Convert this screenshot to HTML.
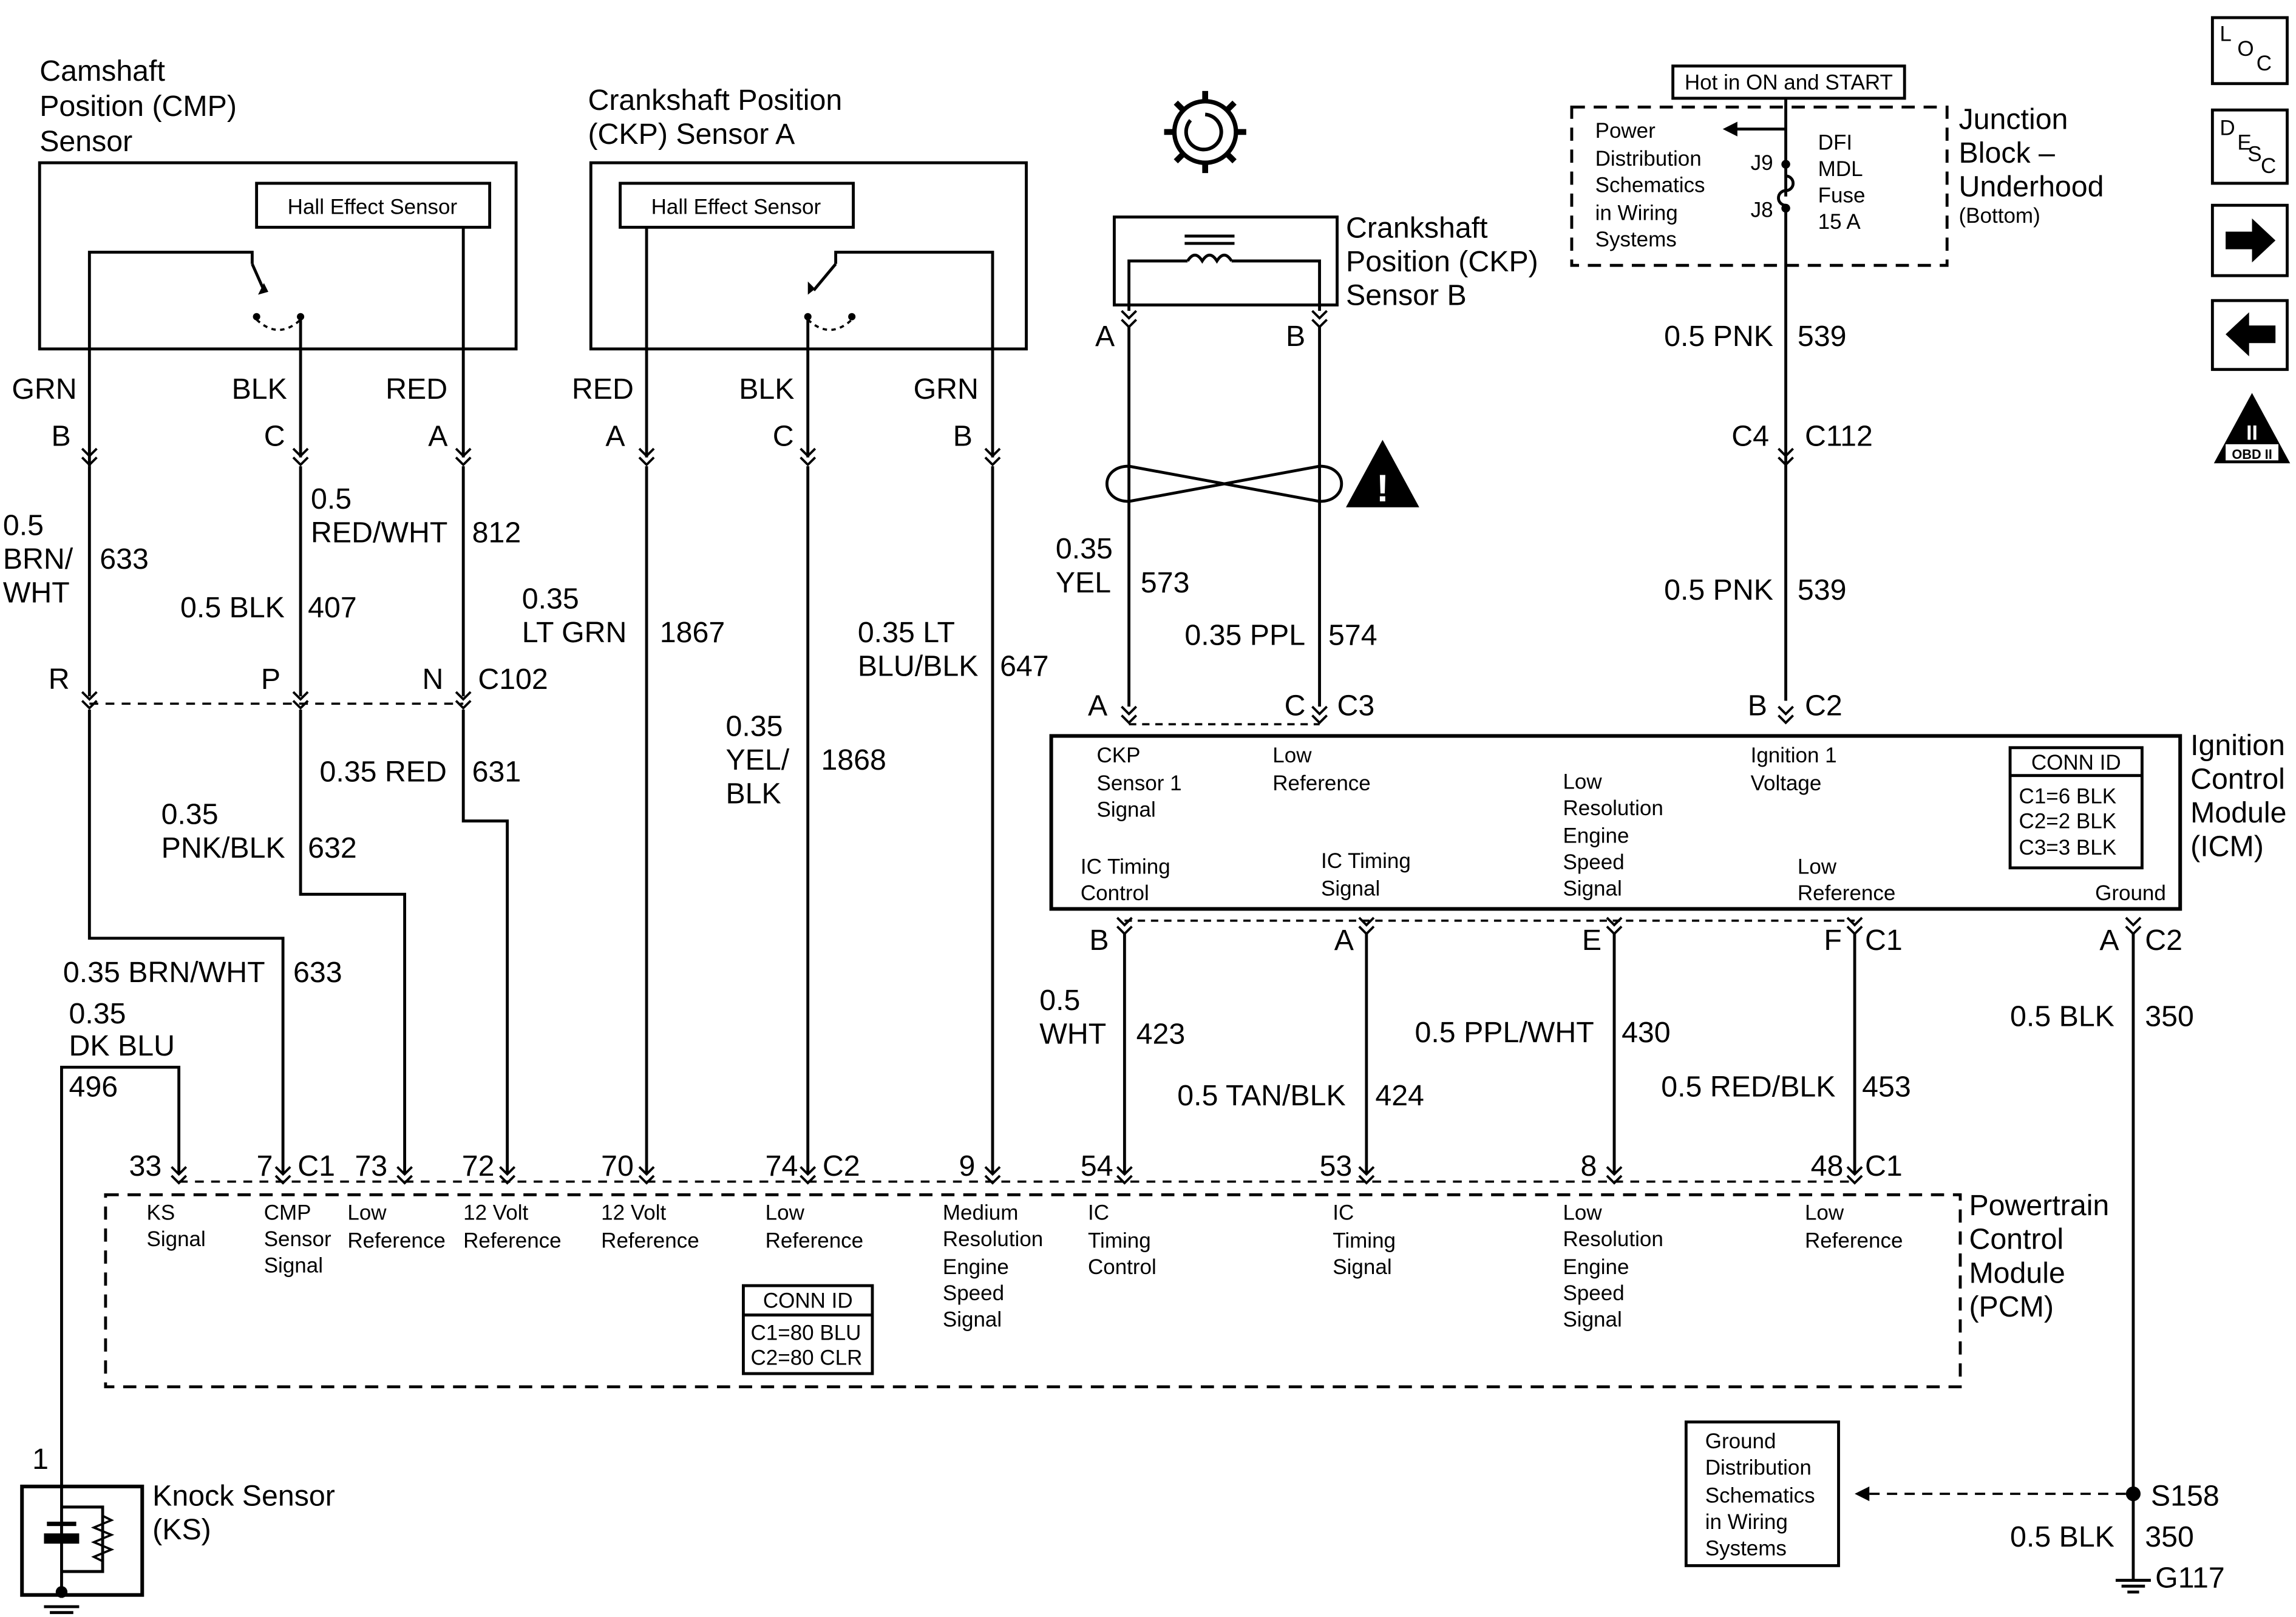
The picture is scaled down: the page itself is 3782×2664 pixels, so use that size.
<!DOCTYPE html>
<html><head><meta charset="utf-8"><style>
html,body{margin:0;padding:0;background:#fff}
svg{display:block}
text{font-family:"Liberation Sans",Arial,sans-serif;fill:#000}
.L{font-size:20px}
.S{font-size:14.5px}
</style></head><body>
<svg width="3782" height="2664" viewBox="0 0 1566 1103" xmlns="http://www.w3.org/2000/svg">
<defs>
<g id="ch"><path d="M-5,-6 L0,-1 L5,-6 M-5,0 L0,5 L5,0" fill="none" stroke="#000" stroke-width="1.6"/></g>
</defs>
<g stroke="#000" stroke-width="2" fill="none">
<rect x="27" y="111" width="325" height="127"/>
<rect x="175" y="125" width="159" height="30"/>
<polyline points="61,318 61,172 172,172 172,180"/>
<line x1="172" y1="180" x2="180" y2="198"/>
<line x1="316" y1="155" x2="316" y2="312"/>
<line x1="205" y1="217" x2="205" y2="312"/>
<path d="M175,218 Q190,232 205,218" stroke-dasharray="3,3" stroke-width="1.5"/>
<line x1="61" y1="318" x2="61" y2="475"/>
<polyline points="61,484 61,640 193,640 193,800"/>
<line x1="205" y1="318" x2="205" y2="475"/>
<polyline points="205,484 205,610 276,610 276,800"/>
<line x1="316" y1="318" x2="316" y2="475"/>
<polyline points="316,484 316,560 346,560 346,800"/>
<line x1="61" y1="480" x2="316" y2="480" stroke-dasharray="6,5" stroke-width="1.5"/>
<polyline points="42,1014 42,728 122,728 122,800"/>
<rect x="403" y="111" width="297" height="127"/>
<rect x="423" y="125" width="159" height="30"/>
<line x1="441" y1="155" x2="441" y2="312"/>
<line x1="441" y1="318" x2="441" y2="800"/>
<polyline points="677,312 677,172 570,172 570,180"/>
<line x1="570" y1="180" x2="555" y2="198"/>
<line x1="677" y1="318" x2="677" y2="800"/>
<line x1="551" y1="217" x2="551" y2="312"/>
<line x1="551" y1="318" x2="551" y2="800"/>
<path d="M551,218 Q566,232 581,218" stroke-dasharray="3,3" stroke-width="1.5"/>
<rect x="72" y="815" width="1265" height="131" stroke-dasharray="9,6"/>
<line x1="122" y1="806" x2="1265" y2="806" stroke-dasharray="6,5" stroke-width="1.5"/>
<rect x="507" y="877" width="88" height="60"/>
<line x1="507" y1="897" x2="595" y2="897"/>
<rect x="15" y="1014" width="82" height="74" stroke-width="2.5"/>
<line x1="42" y1="1014" x2="42" y2="1090"/>
<polyline points="42,1028 70,1028 70,1072 42,1072"/>
<path d="M70,1034 l6,3 -12,5 12,5 -12,5 12,5 -12,5 6,3" stroke-width="1.5"/>
<line x1="30" y1="1096" x2="54" y2="1096"/><line x1="34" y1="1100" x2="50" y2="1100"/>
<circle cx="822" cy="90" r="21" stroke-width="3"/>
<path d="M812,82 A12,12 0 1 0 822,78" stroke-width="2.5"/>
<rect x="760" y="148" width="152" height="60"/>
<polyline points="770,212 770,178 810,178"/>
<polyline points="900,212 900,178 840,178"/>
<path d="M810,178 q5,-8 10,0 q5,-8 10,0 q5,-8 10,0"/>
<line x1="808" y1="166" x2="842" y2="166"/><line x1="808" y1="161" x2="842" y2="161"/>
<line x1="770" y1="222" x2="770" y2="482"/>
<line x1="900" y1="222" x2="900" y2="482"/>
<path d="M770,318 C750,318 750,342 770,342 L900,318 C920,318 920,342 900,342 Z" stroke-width="2"/>
<line x1="770" y1="494" x2="900" y2="494" stroke-dasharray="5,4" stroke-width="1.5"/>
<rect x="717" y="502" width="770" height="118" stroke-width="2.5"/>
<rect x="1371" y="510" width="90" height="82"/>
<line x1="1371" y1="529" x2="1461" y2="529"/>
<line x1="767" y1="628" x2="1265" y2="628" stroke-dasharray="5,4" stroke-width="1.5"/>
<line x1="767" y1="636" x2="767" y2="800"/>
<line x1="932" y1="636" x2="932" y2="800"/>
<line x1="1101" y1="636" x2="1101" y2="800"/>
<line x1="1265" y1="636" x2="1265" y2="800"/>
<line x1="1455" y1="636" x2="1455" y2="1078"/>
<rect x="1141" y="45" width="158" height="22"/>
<rect x="1072" y="73" width="256" height="108" stroke-dasharray="9,6"/>
<line x1="1218" y1="67" x2="1218" y2="134"/>
<line x1="1218" y1="88" x2="1182" y2="88"/>
<path d="M1218,120 a5,5 0 0 1 0,10 a5,5 0 0 0 0,10"/>
<line x1="1218" y1="142" x2="1218" y2="478"/>
<rect x="1150" y="970" width="104" height="98"/>
<line x1="1275" y1="1019" x2="1455" y2="1019" stroke-dasharray="7,5" stroke-width="1.5"/>
<line x1="1443" y1="1078" x2="1467" y2="1078"/><line x1="1447" y1="1082" x2="1463" y2="1082"/><line x1="1451" y1="1086" x2="1459" y2="1086"/>
<rect x="1509" y="12" width="51" height="45"/>
<rect x="1509" y="75" width="51" height="50"/>
<rect x="1509" y="140" width="51" height="48"/>
<rect x="1509" y="205" width="51" height="47"/>
</g>
<g fill="#000">
<circle cx="175" cy="216" r="2.5"/><circle cx="205" cy="216" r="2.5"/>
<circle cx="551" cy="216" r="2.5"/><circle cx="581" cy="216" r="2.5"/>
<path d="M176,201 l4,-8 3,6z"/><path d="M551,201 l0,-9 5,5z"/>
<rect x="30" y="1046" width="24" height="7"/>
<rect x="32" y="1038" width="20" height="3"/>
<circle cx="42" cy="1086" r="4"/>
<path d="M943,300 L968,346 L918,346 Z"/>
<path d="M1175,88 l10,-5 0,10z"/>
<circle cx="1218" cy="112" r="3"/><circle cx="1218" cy="142" r="3"/>
<path d="M1265,1019 l10,-5 0,10z"/>
<circle cx="1455" cy="1019" r="5"/>
<path d="M1518,158 h18 v-9 l16,15 -16,15 v-9 h-18z"/>
<path d="M1552,222 h-18 v-9 l-16,15 16,15 v-9 h18z"/>
<path d="M1536,268 L1562,316 L1510,316Z"/>
</g>
<g fill="none" stroke="#000" stroke-width="4">
<path d="M822,69 v-7 M822,111 v7 M801,90 h-7 M843,90 h7 M807,75 l-5,-5 M837,75 l5,-5 M807,105 l-5,5 M837,105 l5,5"/>
</g>
<text x="943" y="342" text-anchor="middle" style="font-size:26px;font-weight:bold;fill:#fff">!</text>
<text x="1536" y="300" text-anchor="middle" style="font-size:14px;font-weight:bold;fill:#fff">II</text>
<rect x="1518" y="303" width="36" height="11" fill="#fff"/>
<text x="1536" y="313" text-anchor="middle" style="font-size:9px;font-weight:bold">OBD II</text>
<g>
<use href="#ch" x="61" y="312"/><use href="#ch" x="205" y="312"/><use href="#ch" x="316" y="312"/>
<use href="#ch" x="441" y="312"/><use href="#ch" x="551" y="312"/><use href="#ch" x="677" y="312"/>
<use href="#ch" x="61" y="478"/><use href="#ch" x="205" y="478"/><use href="#ch" x="316" y="478"/>
<use href="#ch" x="122" y="802"/><use href="#ch" x="193" y="802"/><use href="#ch" x="276" y="802"/><use href="#ch" x="346" y="802"/>
<use href="#ch" x="441" y="802"/><use href="#ch" x="551" y="802"/><use href="#ch" x="677" y="802"/>
<use href="#ch" x="767" y="802"/><use href="#ch" x="932" y="802"/><use href="#ch" x="1101" y="802"/><use href="#ch" x="1265" y="802"/>
<use href="#ch" x="770" y="218"/><use href="#ch" x="900" y="218"/>
<use href="#ch" x="770" y="488"/><use href="#ch" x="900" y="488"/>
<use href="#ch" x="1218" y="312"/><use href="#ch" x="1218" y="488"/>
<use href="#ch" x="767" y="632"/><use href="#ch" x="932" y="632"/><use href="#ch" x="1101" y="632"/><use href="#ch" x="1265" y="632"/><use href="#ch" x="1455" y="632"/>
</g>
<g class="L">
<text x="27" y="55">Camshaft</text><text x="27" y="79">Position (CMP)</text><text x="27" y="103">Sensor</text>
<text x="8" y="272">GRN</text><text x="158" y="272">BLK</text><text x="263" y="272">RED</text>
<text x="35" y="304">B</text><text x="180" y="304">C</text><text x="292" y="304">A</text>
<text x="2" y="365">0.5</text><text x="2" y="388">BRN/</text><text x="2" y="411">WHT</text><text x="68" y="388">633</text>
<text x="212" y="347">0.5</text><text x="212" y="370">RED/WHT</text><text x="322" y="370">812</text>
<text x="123" y="421">0.5 BLK</text><text x="210" y="421">407</text>
<text x="33" y="470">R</text><text x="178" y="470">P</text><text x="288" y="470">N</text><text x="326" y="470">C102</text>
<text x="218" y="533">0.35 RED</text><text x="322" y="533">631</text>
<text x="110" y="562">0.35</text><text x="110" y="585">PNK/BLK</text><text x="210" y="585">632</text>
<text x="43" y="670">0.35 BRN/WHT</text><text x="200" y="670">633</text>
<text x="47" y="698">0.35</text><text x="47" y="720">DK BLU</text><text x="47" y="748">496</text>
<text x="401" y="75">Crankshaft Position</text><text x="401" y="98">(CKP) Sensor A</text>
<text x="390" y="272">RED</text><text x="504" y="272">BLK</text><text x="623" y="272">GRN</text>
<text x="413" y="304">A</text><text x="527" y="304">C</text><text x="650" y="304">B</text>
<text x="356" y="415">0.35</text><text x="356" y="438">LT GRN</text><text x="450" y="438">1867</text>
<text x="495" y="502">0.35</text><text x="495" y="525">YEL/</text><text x="495" y="548">BLK</text><text x="560" y="525">1868</text>
<text x="585" y="438">0.35 LT</text><text x="585" y="461">BLU/BLK</text><text x="682" y="461">647</text>
<text x="88" y="802">33</text><text x="175" y="802">7</text><text x="203" y="802">C1</text><text x="242" y="802">73</text><text x="315" y="802">72</text>
<text x="410" y="802">70</text><text x="522" y="802">74</text><text x="561" y="802">C2</text><text x="654" y="802">9</text>
<text x="737" y="802">54</text><text x="900" y="802">53</text><text x="1078" y="802">8</text><text x="1235" y="802">48</text><text x="1272" y="802">C1</text>
<text x="1343" y="829">Powertrain</text><text x="1343" y="852">Control</text><text x="1343" y="875">Module</text><text x="1343" y="898">(PCM)</text>
<text x="22" y="1002">1</text>
<text x="104" y="1027">Knock Sensor</text><text x="104" y="1050">(KS)</text>
<text x="918" y="162">Crankshaft</text><text x="918" y="185">Position (CKP)</text><text x="918" y="208">Sensor B</text>
<text x="747" y="236">A</text><text x="877" y="236">B</text>
<text x="720" y="381">0.35</text><text x="720" y="404">YEL</text><text x="778" y="404">573</text>
<text x="808" y="440">0.35 PPL</text><text x="906" y="440">574</text>
<text x="742" y="488">A</text><text x="876" y="488">C</text><text x="912" y="488">C3</text>
<text x="1494" y="515">Ignition</text><text x="1494" y="538">Control</text><text x="1494" y="561">Module</text><text x="1494" y="584">(ICM)</text>
<text x="743" y="648">B</text><text x="910" y="648">A</text><text x="1079" y="648">E</text><text x="1244" y="648">F</text><text x="1272" y="648">C1</text>
<text x="1432" y="648">A</text><text x="1463" y="648">C2</text>
<text x="709" y="689">0.5</text><text x="709" y="712">WHT</text><text x="775" y="712">423</text>
<text x="803" y="754">0.5 TAN/BLK</text><text x="938" y="754">424</text>
<text x="965" y="711">0.5 PPL/WHT</text><text x="1106" y="711">430</text>
<text x="1133" y="748">0.5 RED/BLK</text><text x="1270" y="748">453</text>
<text x="1371" y="700">0.5 BLK</text><text x="1463" y="700">350</text>
<text x="1336" y="88">Junction</text><text x="1336" y="111">Block –</text><text x="1336" y="134">Underhood</text>
<text x="1135" y="236">0.5 PNK</text><text x="1226" y="236">539</text>
<text x="1181" y="304">C4</text><text x="1231" y="304">C112</text>
<text x="1135" y="409">0.5 PNK</text><text x="1226" y="409">539</text>
<text x="1192" y="488">B</text><text x="1231" y="488">C2</text>
<text x="1467" y="1027">S158</text><text x="1371" y="1055">0.5 BLK</text><text x="1463" y="1055">350</text><text x="1470" y="1083">G117</text>
</g>
<g class="S">
<text x="254" y="146" text-anchor="middle">Hall Effect Sensor</text>
<text x="502" y="146" text-anchor="middle">Hall Effect Sensor</text>
<text x="100" y="832">KS</text><text x="100" y="850">Signal</text>
<text x="180" y="832">CMP</text><text x="180" y="850">Sensor</text><text x="180" y="868">Signal</text>
<text x="237" y="832">Low</text><text x="237" y="851">Reference</text>
<text x="316" y="832">12 Volt</text><text x="316" y="851">Reference</text>
<text x="410" y="832">12 Volt</text><text x="410" y="851">Reference</text>
<text x="522" y="832">Low</text><text x="522" y="851">Reference</text>
<text x="643" y="832">Medium</text><text x="643" y="850">Resolution</text><text x="643" y="869">Engine</text><text x="643" y="887">Speed</text><text x="643" y="905">Signal</text>
<text x="742" y="832">IC</text><text x="742" y="851">Timing</text><text x="742" y="869">Control</text>
<text x="909" y="832">IC</text><text x="909" y="851">Timing</text><text x="909" y="869">Signal</text>
<text x="1066" y="832">Low</text><text x="1066" y="850">Resolution</text><text x="1066" y="869">Engine</text><text x="1066" y="887">Speed</text><text x="1066" y="905">Signal</text>
<text x="1231" y="832">Low</text><text x="1231" y="851">Reference</text>
<text x="551" y="892" text-anchor="middle">CONN ID</text><text x="512" y="914">C1=80 BLU</text><text x="512" y="931">C2=80 CLR</text>
<text x="748" y="520">CKP</text><text x="748" y="539">Sensor 1</text><text x="748" y="557">Signal</text>
<text x="868" y="520">Low</text><text x="868" y="539">Reference</text>
<text x="1066" y="538">Low</text><text x="1066" y="556">Resolution</text><text x="1066" y="575">Engine</text><text x="1066" y="593">Speed</text><text x="1066" y="611">Signal</text>
<text x="1194" y="520">Ignition 1</text><text x="1194" y="539">Voltage</text>
<text x="737" y="596">IC Timing</text><text x="737" y="614">Control</text>
<text x="901" y="592">IC Timing</text><text x="901" y="611">Signal</text>
<text x="1226" y="596">Low</text><text x="1226" y="614">Reference</text>
<text x="1429" y="614">Ground</text>
<text x="1416" y="525" text-anchor="middle">CONN ID</text><text x="1377" y="548">C1=6 BLK</text><text x="1377" y="565">C2=2 BLK</text><text x="1377" y="583">C3=3 BLK</text>
<text x="1220" y="61" text-anchor="middle">Hot in ON and START</text>
<text x="1088" y="94">Power</text><text x="1088" y="113">Distribution</text><text x="1088" y="131">Schematics</text><text x="1088" y="150">in Wiring</text><text x="1088" y="168">Systems</text>
<text x="1194" y="116">J9</text><text x="1194" y="148">J8</text>
<text x="1240" y="102">DFI</text><text x="1240" y="120">MDL</text><text x="1240" y="138">Fuse</text><text x="1240" y="156">15 A</text>
<text x="1336" y="152">(Bottom)</text>
<text x="1163" y="988">Ground</text><text x="1163" y="1006">Distribution</text><text x="1163" y="1025">Schematics</text><text x="1163" y="1043">in Wiring</text><text x="1163" y="1061">Systems</text>
<text x="1514" y="28">L</text><text x="1526" y="38">O</text><text x="1539" y="48">C</text>
<text x="1514" y="92">D</text><text x="1526" y="102">E</text><text x="1533" y="110">S</text><text x="1542" y="118">C</text>
</g>
</svg>
</body></html>
